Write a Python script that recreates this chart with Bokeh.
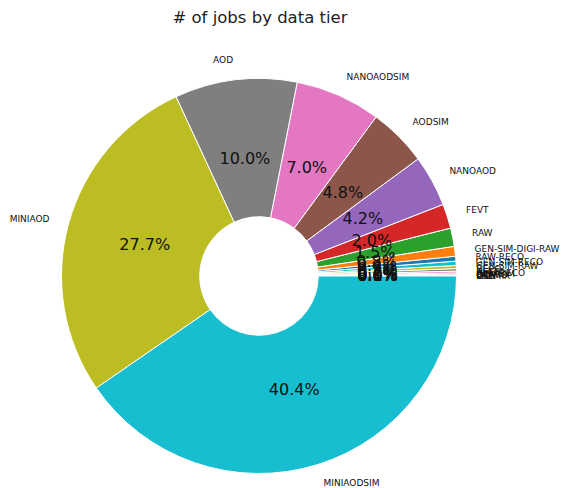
import numpy as np
from bokeh.plotting import figure
from bokeh.models import ColumnDataSource, Label
from bokeh.embed import file_html
from bokeh.resources import INLINE
from bokeh.core.properties import value

# data (percent of jobs), ascending order as drawn counter-clockwise from 3 o'clock
tiers = ["PREMIX", "GEN", "LHE", "DQMIO", "GEN-SIM", "ALCARECO", "USER", "RECO",
         "GEN-SIM-RAW", "GEN-SIM-RECO", "RAW-RECO", "GEN-SIM-DIGI-RAW", "RAW", "FEVT",
         "NANOAOD", "AODSIM", "NANOAODSIM", "AOD", "MINIAOD", "MINIAODSIM"]
shares = [0.01, 0.01, 0.03, 0.04, 0.06, 0.10, 0.15, 0.20, 0.25, 0.35,
          0.40, 0.80, 1.5, 2.0, 4.2, 4.8, 7.0, 10.0, 27.7, 40.4]
title_text = "# of jobs by data tier"

tab10 = ["#1f77b4", "#ff7f0e", "#2ca02c", "#d62728", "#9467bd",
         "#8c564b", "#e377c2", "#7f7f7f", "#bcbd22", "#17becf"]

W, H = 576, 488
cx, cy, R = 258.5, 275.5, 197.5  # pixel geometry within figure (cy from top)

x0, x1 = -cx / R, (W - cx) / R
y0, y1 = -(H - cy) / R, cy / R

vals = np.array(shares, dtype=float)
frac = vals / vals.sum()
ends = np.cumsum(frac) * 2 * np.pi
starts = np.concatenate([[0.0], ends[:-1]])
mids = (starts + ends) / 2
colors = [tab10[i % 10] for i in range(len(vals))]
pct = ["%1.1f%%" % (f * 100) for f in frac]

wedges = ColumnDataSource(dict(start=starts, end=ends, color=colors))

lx = 1.1 * np.cos(mids)
ly = 1.1 * np.sin(mids)
ly = np.maximum(ly, y0 + 5.0 / R)
left_mask = lx > 0
lab_left = ColumnDataSource(dict(x=lx[left_mask], y=ly[left_mask],
                                 t=[t for t, m in zip(tiers, left_mask) if m]))
lab_right = ColumnDataSource(dict(x=lx[~left_mask], y=ly[~left_mask],
                                  t=[t for t, m in zip(tiers, left_mask) if not m]))
pcts = ColumnDataSource(dict(x=0.6 * np.cos(mids), y=0.6 * np.sin(mids), t=pct))

p = figure(width=W, height=H, x_range=(x0, x1), y_range=(y0, y1),
           output_backend="svg", toolbar_location=None, min_border=0)
p.axis.visible = False
p.grid.visible = False
p.outline_line_color = None
p.background_fill_color = "white"

p.annular_wedge(x=0, y=0, inner_radius=0.3, outer_radius=1.0,
                start_angle="start", end_angle="end", direction="anticlock",
                fill_color="color", line_color="white", line_width=1, source=wedges)

p.text(x="x", y="y", text="t", source=pcts, text_align="center",
       text_baseline="middle", text_font=value("DejaVu Sans"),
       text_font_size="16px", text_color="#111111")

p.text(x="x", y="y", text="t", source=lab_left, text_align="left",
       text_baseline="middle", text_font=value("DejaVu Sans"),
       text_font_size="9px", text_color="#111111")
p.text(x="x", y="y", text="t", source=lab_right, text_align="right",
       text_baseline="middle", text_font=value("DejaVu Sans"),
       text_font_size="9px", text_color="#111111")

p.add_layout(Label(x=259.5, y=H - 17, x_units="screen", y_units="screen",
                   text=title_text, text_align="center", text_baseline="middle",
                   text_font="DejaVu Sans", text_font_size="16.5px",
                   text_color="#222222"))

open("out.html", "w").write(file_html(p, INLINE))
